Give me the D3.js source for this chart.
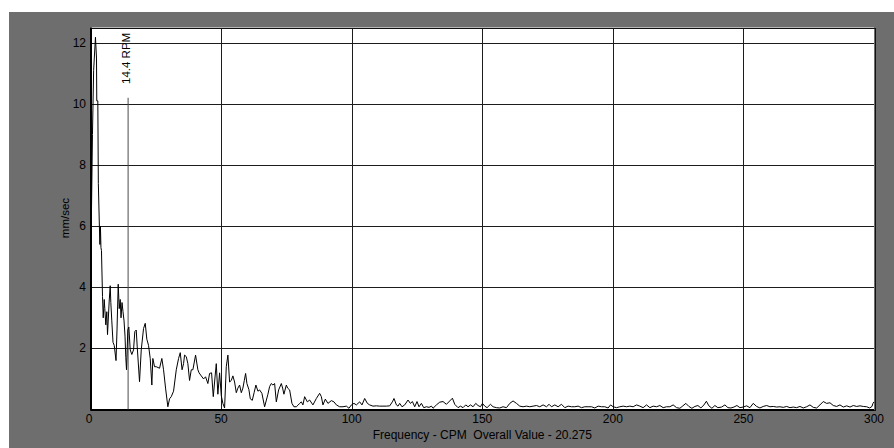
<!DOCTYPE html>
<html>
<head>
<meta charset="utf-8">
<script src="https://cdn.jsdelivr.net/npm/d3@7"></script>
<style>
  html, body { margin: 0; padding: 0; background: #ffffff; }
  svg { display: block; }
  text { font-family: "Liberation Sans", Arial, sans-serif; fill: #000; white-space: pre; }
</style>
</head>
<body>
<svg id="chart" width="894" height="448"></svg>
<script>
// Axis ticks
const xTickValues = [0, 50, 100, 150, 200, 250, 300];
const yTickValues = [2, 4, 6, 8, 10, 12];

// Titles
const yTitle = "mm/sec";
const xTitle = "Frequency - CPM  Overall Value - 20.275";

// Running-speed marker
const markerRpm = 14.4;
const markerLevel = 10.2;
const markerLabel = "14.4 RPM";

// Velocity spectrum: [frequency (CPM), amplitude (mm/sec)]
const spectrum = [
  [0,0],[0.3,6.0],[0.75,9.0],[1.2,11.1],[1.9,12.18],[2.3,11.5],[2.4,10.1],[2.8,10.1],[3.0,7.4],[3.4,6.0],
  [3.6,5.4],[3.8,6.0],[4.0,5.3],[4.2,5.2],[4.6,3.7],[4.87,3.0],[5.25,3.6],[5.48,3.3],[5.86,2.77],[6.25,3.2],
  [6.51,2.45],[7.16,3.55],[7.55,4.05],[7.78,3.5],[8.16,2.9],[8.62,2.2],[9.08,2.1],[9.77,1.6],[10.15,2.6],[10.61,4.1],
  [11.0,3.3],[11.38,3.6],[11.69,3.0],[12.07,3.5],[12.45,3.2],[12.84,2.9],[13.22,2.4],[13.52,1.7],[13.79,1.3],[14.29,2.6],
  [14.67,2.7],[15.21,1.95],[15.82,1.8],[16.48,1.95],[16.97,2.55],[17.51,2.6],[17.89,2.05],[18.77,0.91],[19.43,1.95],[20.31,2.65],
  [20.96,2.82],[21.57,2.3],[22.22,2.1],[22.87,1.67],[23.49,0.8],[23.87,1.67],[24.52,1.4],[25.17,1.4],[26.44,1.35],[27.32,1.67],
  [27.97,1.3],[28.74,0.7],[29.62,0.09],[30.27,0.35],[30.92,0.42],[31.80,0.6],[32.84,1.3],[33.72,1.67],[34.37,1.86],[35.06,1.3],
  [35.63,1.5],[36.02,1.78],[36.67,1.73],[37.28,1.5],[37.93,0.95],[38.58,1.3],[39.20,1.3],[40.23,1.78],[41.11,1.3],[41.57,1.2],
  [42.41,1.1],[43.30,1.0],[44.06,1.07],[44.94,0.85],[45.59,1.18],[46.36,1.2],[47.01,0.42],[47.51,0.9],[48.16,1.5],[48.77,0.5],
  [49.43,1.2],[50.08,0.45],[50.69,0.2],[51.34,0.05],[51.99,1.4],[52.61,1.78],[53.26,0.9],[53.91,0.95],[54.52,1.1],[55.17,0.9],
  [55.82,0.55],[56.44,0.7],[57.09,0.8],[57.74,0.55],[58.35,0.7],[58.89,0.95],[59.39,1.18],[59.89,0.85],[60.65,0.65],[61.19,0.35],
  [61.95,0.3],[62.64,0.55],[63.33,0.8],[64.10,0.6],[64.75,0.64],[65.63,0.53],[66.67,0.09],[67.93,0.5],[68.58,0.75],[69.23,0.85],
  [69.85,0.8],[70.50,0.85],[71.15,0.25],[72.03,0.64],[73.07,0.85],[73.56,0.7],[74.06,0.5],[74.98,0.8],[75.48,0.7],[76.25,0.64],
  [77.13,0.2],[77.89,0.09],[78.81,0.09],[79.43,0.14],[80.08,0.2],[80.73,0.25],[81.34,0.15],[81.99,0.42],[83.03,0.25],[83.91,0.31],
  [85.17,0.15],[86.48,0.36],[87.74,0.53],[88.39,0.42],[89.00,0.15],[89.92,0.34],[90.92,0.2],[92.22,0.29],[93.22,0.25],[94.14,0.15],
  [95.40,0.09],[96.67,0.09],[97.97,0.11],[98.97,0.04],[99.89,0.15],[100.88,0.2],[101.80,0.15],[103.07,0.25],[103.95,0.15],[104.98,0.36],
  [106.02,0.2],[106.90,0.15],[108.16,0.11],[109.46,0.12],[110.73,0.11],[111.99,0.11],[113.29,0.11],[114.56,0.12],[115.59,0.25],[116.21,0.36],
  [117.13,0.15],[117.74,0.11],[118.39,0.2],[119.27,0.09],[120.31,0.15],[121.57,0.31],[122.49,0.2],[123.26,0.26],[124.14,0.09],[125.02,0.26],
  [125.79,0.09],[126.70,0.2],[127.59,0.06],[128.62,0.09],[129.62,0.07],[130.54,0.11],[131.15,0.04],[132.45,0.15],[133.72,0.24],[134.98,0.26],
  [136.28,0.17],[137.55,0.28],[138.58,0.37],[139.46,0.17],[140.73,0.06],[141.65,0.11],[142.64,0.06],[143.68,0.15],[144.56,0.09],[145.48,0.15],
  [146.48,0.09],[147.51,0.2],[148.39,0.13],[149.31,0.09],[150.08,0.2],[150.96,0.11],[151.84,0.06],[153.14,0.17],[154.14,0.09],[155.44,0.06],
  [156.70,0.05],[157.97,0.09],[159.27,0.06],[160.54,0.2],[161.80,0.28],[163.10,0.2],[164.37,0.11],[165.63,0.09],[166.93,0.11],[168.20,0.09],
  [169.46,0.11],[170.77,0.13],[172.03,0.09],[173.30,0.15],[174.60,0.09],[175.59,0.17],[176.51,0.09],[177.78,0.15],[179.04,0.09],[180.34,0.17],
  [181.61,0.06],[182.87,0.11],[184.18,0.09],[185.44,0.09],[186.70,0.11],[188.01,0.06],[189.27,0.09],[190.54,0.09],[191.84,0.09],[193.10,0.05],
  [194.37,0.11],[195.67,0.09],[196.93,0.09],[198.20,0.05],[199.12,0.15],[200.11,0.09],[201.42,0.06],[202.68,0.09],[203.95,0.11],[205.25,0.09],
  [206.51,0.11],[207.78,0.09],[209.08,0.15],[210.34,0.11],[211.61,0.06],[212.91,0.15],[214.18,0.06],[215.44,0.11],[216.74,0.09],[218.01,0.13],
  [219.27,0.06],[220.57,0.09],[221.84,0.09],[223.10,0.15],[224.41,0.06],[225.67,0.04],[226.82,0.12],[227.97,0.2],[229.12,0.1],[230.27,0.04],
  [231.42,0.1],[232.57,0.13],[233.72,0.05],[234.87,0.15],[235.82,0.27],[236.78,0.12],[237.93,0.04],[239.08,0.13],[240.23,0.06],[241.65,0.08],
  [242.91,0.15],[244.06,0.06],[245.21,0.05],[246.36,0.08],[247.51,0.13],[248.66,0.06],[249.92,0.08],[251.23,0.12],[252.49,0.06],[253.75,0.2],
  [255.06,0.1],[256.32,0.05],[257.59,0.1],[258.89,0.13],[260.15,0.09],[261.42,0.1],[262.72,0.08],[263.98,0.09],[265.25,0.07],[266.55,0.1],
  [267.82,0.06],[269.08,0.08],[270.38,0.06],[271.65,0.1],[272.91,0.05],[274.21,0.09],[275.48,0.15],[276.74,0.07],[278.05,0.05],[279.31,0.15],
  [280.57,0.26],[281.88,0.2],[283.14,0.22],[284.41,0.13],[285.71,0.1],[286.97,0.15],[288.24,0.08],[289.54,0.12],[290.80,0.08],[292.07,0.13],
  [293.37,0.1],[294.64,0.12],[295.90,0.1],[297.20,0.09],[298.35,0.05],[299.23,0.1],[299.6,0.2],[300,0.25]
];

const svg = d3.select("#chart");
const width = 894, height = 448;

// Plot window
const plot = { left: 90.5, right: 874, top: 27.5, bottom: 409.5 };

const x = d3.scaleLinear().domain([0, 300]).range([plot.left, plot.right]);
const y = d3.scaleLinear().domain([0, 12.5]).range([plot.bottom, plot.top]);

const crisp = v => Math.round(v) + 0.5;

// Grey panel behind the plot
svg.append("rect")
  .attr("x", 9).attr("y", 12)
  .attr("width", width - 9).attr("height", height - 12)
  .attr("fill", "#6e6e6e");

// White plot area
svg.append("rect")
  .attr("x", plot.left).attr("y", plot.top)
  .attr("width", plot.right - plot.left).attr("height", plot.bottom - plot.top)
  .attr("fill", "#ffffff");

// Grid lines
const grid = svg.append("g")
  .attr("stroke", "#1c1c1c").attr("stroke-width", 1)
  .attr("shape-rendering", "crispEdges");

grid.selectAll("line.v")
  .data(xTickValues.filter(v => v > 0 && v < 300))
  .join("line").attr("class", "v")
  .attr("x1", d => crisp(x(d))).attr("x2", d => crisp(x(d)))
  .attr("y1", plot.top).attr("y2", plot.bottom);

grid.selectAll("line.h")
  .data(yTickValues)
  .join("line").attr("class", "h")
  .attr("y1", d => crisp(y(d))).attr("y2", d => crisp(y(d)))
  .attr("x1", plot.left).attr("x2", plot.right);

// Plot frame
svg.append("rect")
  .attr("x", crisp(plot.left)).attr("y", crisp(plot.top))
  .attr("width", Math.round(plot.right - plot.left)).attr("height", Math.round(plot.bottom - plot.top))
  .attr("fill", "none").attr("stroke", "#111").attr("stroke-width", 1)
  .attr("shape-rendering", "crispEdges");
svg.append("line")
  .attr("x1", Math.round(plot.left)).attr("x2", Math.round(plot.left))
  .attr("y1", plot.top).attr("y2", plot.bottom + 1)
  .attr("stroke", "#000").attr("stroke-width", 2);
svg.append("line")
  .attr("x1", plot.left).attr("x2", plot.right)
  .attr("y1", Math.round(plot.bottom)).attr("y2", Math.round(plot.bottom))
  .attr("stroke", "#000").attr("stroke-width", 2);

// Running-speed marker
const mx = x(markerRpm);
svg.append("line")
  .attr("x1", mx).attr("x2", mx)
  .attr("y1", y(markerLevel)).attr("y2", y(0))
  .attr("stroke", "#4a4a4a").attr("stroke-width", 1);
svg.append("text")
  .attr("transform", `translate(${mx - 2},${84}) rotate(-90)`)
  .attr("text-anchor", "start")
  .attr("dominant-baseline", "central")
  .attr("font-size", 11.5)
  .text(markerLabel);

// Spectrum trace
const line = d3.line().x(d => x(d[0])).y(d => y(d[1]));
svg.append("path")
  .datum(spectrum)
  .attr("d", line)
  .attr("fill", "none")
  .attr("stroke", "#000")
  .attr("stroke-width", 1);

// Tick labels
svg.append("g").selectAll("text")
  .data(yTickValues)
  .join("text")
  .attr("x", 86).attr("y", d => y(d))
  .attr("text-anchor", "end")
  .attr("dominant-baseline", "central")
  .attr("font-size", 12)
  .text(d => d);

svg.append("g").selectAll("text")
  .data(xTickValues)
  .join("text")
  .attr("x", d => x(d) + (d === 0 ? -1.5 : 0)).attr("y", 418.5)
  .attr("text-anchor", "middle")
  .attr("dominant-baseline", "central")
  .attr("font-size", 12)
  .text(d => d);

// Axis titles
svg.append("text")
  .attr("transform", `translate(65,218) rotate(-90)`)
  .attr("text-anchor", "middle")
  .attr("dominant-baseline", "central")
  .attr("font-size", 11.5)
  .text(yTitle);

svg.append("text")
  .attr("x", (plot.left + plot.right) / 2).attr("y", 435)
  .attr("text-anchor", "middle")
  .attr("dominant-baseline", "central")
  .attr("font-size", 12)
  .text(xTitle);
</script>
</body>
</html>
